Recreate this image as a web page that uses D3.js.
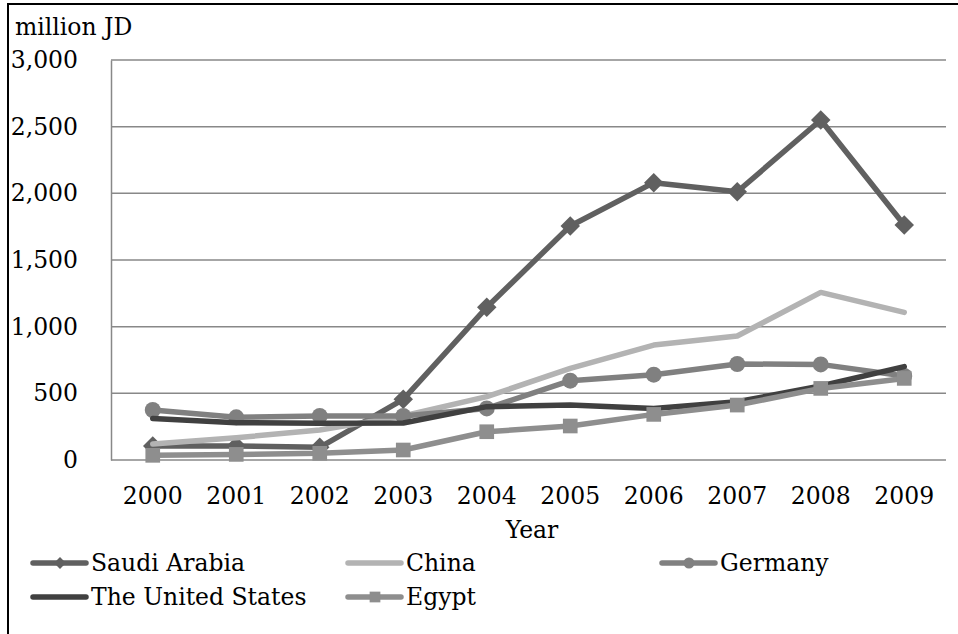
<!DOCTYPE html>
<html>
<head>
<meta charset="utf-8">
<script src="https://cdn.jsdelivr.net/npm/d3@7"></script>
<style>
  body { margin: 0; background: #fff; }
  text { font-family: "DejaVu Serif", "Liberation Serif", serif; fill: #000; }
</style>
</head>
<body>
<div id="chart"></div>
<script>
// 1. DATA
const years = ["2000", "2001", "2002", "2003", "2004", "2005", "2006", "2007", "2008", "2009"]
const yTicks = [0, 500, 1000, 1500, 2000, 2500, 3000]

const saudiArabia = [105, 105, 95, 455, 1145, 1755, 2080, 2012, 2550, 1762]
const china = [120, 167, 225, 330, 475, 687, 862, 930, 1257, 1107]
const germany = [375, 320, 330, 330, 387, 595, 640, 720, 717, 630]
const unitedStates = [312, 280, 275, 277, 400, 412, 387, 437, 555, 700]
const egypt = [35, 42, 50, 75, 212, 255, 342, 412, 537, 612]

const series = [
    { name: "Saudi Arabia", values: saudiArabia, color: "#606060", marker: "diamond" },
    { name: "China", values: china, color: "#b3b3b3", marker: null },
    { name: "Germany", values: germany, color: "#808080", marker: "circle" },
    { name: "The United States", values: unitedStates, color: "#404040", marker: null },
    { name: "Egypt", values: egypt, color: "#8e8e8e", marker: "square" },
]

const fontFamily = "'DejaVu Serif', serif"
const fontSize = "23.5px"

// 2. DIMENSIONS
const dimensions = {
    width: 958,
    height: 634,
    margin: { top: 60, right: 12, bottom: 174, left: 111 }
}
dimensions.boundedWidth = dimensions.width - dimensions.margin.left - dimensions.margin.right
dimensions.boundedHeight = dimensions.height - dimensions.margin.top - dimensions.margin.bottom

// 3. DRAW CANVAS
const wrapper = d3.select("#chart")
    .append("svg")
    .attr("width", dimensions.width)
    .attr("height", dimensions.height)

// outer frame (left and top edges visible)
wrapper.append("path")
    .attr("d", `M8,${dimensions.height + 5} V4 H${dimensions.width + 5}`)
    .attr("fill", "none")
    .attr("stroke", "#000")
    .attr("stroke-width", 2)

const bounds = wrapper.append("g")
    .attr("transform", `translate(${dimensions.margin.left},${dimensions.margin.top})`)

// 4. SCALES
const xScale = d3.scaleBand()
    .domain(years)
    .range([0, dimensions.boundedWidth])
const yScale = d3.scaleLinear()
    .domain([0, 3000])
    .range([dimensions.boundedHeight, 0])
const xPos = (d, i) => xScale(years[i]) + xScale.bandwidth() / 2

// 5. PERIPHERALS
// gridlines
bounds.append("g")
    .selectAll("line")
    .data(yTicks)
    .join("line")
    .attr("x1", 0)
    .attr("x2", dimensions.boundedWidth)
    .attr("y1", d => yScale(d))
    .attr("y2", d => yScale(d))
    .attr("stroke", "#888")
    .attr("stroke-width", 1.5)

const yAxis = bounds.append("g")
    .call(d3.axisLeft(yScale).tickValues(yTicks).tickSize(0).tickPadding(33).tickFormat(d3.format(",")))
yAxis.select(".domain").attr("stroke", "#888").attr("stroke-width", 1.5)
yAxis.selectAll("text")
    .style("font-family", fontFamily)
    .style("font-size", fontSize)

const xAxis = bounds.append("g")
    .attr("transform", `translate(0,${dimensions.boundedHeight})`)
    .call(d3.axisBottom(xScale).tickSize(0).tickPadding(27))
xAxis.select(".domain").remove()
xAxis.selectAll("text")
    .style("font-family", fontFamily)
    .style("font-size", fontSize)

bounds.append("text")
    .attr("x", 532 - dimensions.margin.left)
    .attr("y", dimensions.boundedHeight + 78)
    .attr("text-anchor", "middle")
    .style("font-size", fontSize)
    .text("Year")

wrapper.append("text")
    .attr("x", 15)
    .attr("y", 35)
    .style("font-size", fontSize)
    .text("million JD")

// 6. DRAW DATA
const lineGen = d3.line()
    .x(xPos)
    .y(d => yScale(d))

const symbolFor = {
    diamond: d3.symbol().type(d3.symbolSquare).size(190),
    circle: d3.symbol().type(d3.symbolCircle).size(200),
    square: d3.symbol().type(d3.symbolSquare).size(215),
}

series.forEach(s => {
    const g = bounds.append("g")
    g.append("path")
        .datum(s.values)
        .attr("d", lineGen)
        .attr("fill", "none")
        .attr("stroke", s.color)
        .attr("stroke-width", 5.5)
        .attr("stroke-linejoin", "round")
        .attr("stroke-linecap", "round")
    if (s.marker) {
        g.selectAll("path.mark")
            .data(s.values)
            .join("path")
            .attr("class", "mark")
            .attr("transform", (d, i) => `translate(${xPos(d, i)},${yScale(d)})` +
                (s.marker === "diamond" ? " rotate(45)" : ""))
            .attr("d", symbolFor[s.marker])
            .attr("fill", s.color)
    }
})

// legend
const legendPos = [
    { x: 33, y: 563 }, { x: 348, y: 563 }, { x: 662, y: 563 },
    { x: 33, y: 597 }, { x: 348, y: 597 },
]
const legendSymbol = {
    diamond: d3.symbol().type(d3.symbolSquare).size(70),
    circle: d3.symbol().type(d3.symbolCircle).size(95),
    square: d3.symbol().type(d3.symbolSquare).size(115),
}
const legend = wrapper.append("g")
    .selectAll("g")
    .data(series)
    .join("g")
    .attr("transform", (d, i) => `translate(${legendPos[i].x},${legendPos[i].y})`)
legend.append("line")
    .attr("x1", 0).attr("x2", 53)
    .attr("stroke", d => d.color)
    .attr("stroke-width", 5.5)
    .attr("stroke-linecap", "round")
legend.filter(d => d.marker)
    .append("path")
    .attr("transform", d => "translate(27,0)" + (d.marker === "diamond" ? " rotate(45)" : ""))
    .attr("d", d => legendSymbol[d.marker]())
    .attr("fill", d => d.color)
legend.append("text")
    .attr("x", 58)
    .attr("dy", "0.36em")
    .style("font-size", fontSize)
    .text(d => d.name)
</script>
</body>
</html>
